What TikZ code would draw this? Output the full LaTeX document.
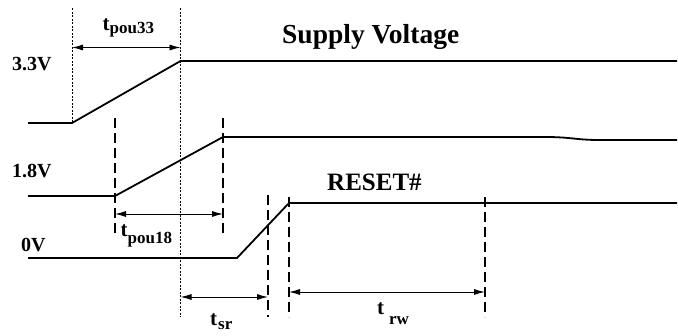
\documentclass[tikz,border=0pt]{standalone}
\usepackage{fontspec}
\setmainfont{Liberation Serif}
\usetikzlibrary{arrows.meta}
\tikzset{
  sig/.style={line width=1.8pt},
  dotv/.style={line width=0.9pt, dash pattern=on 2pt off 1.5pt},
  dashv/.style={line width=1.5pt, dash pattern=on 10pt off 5pt},
  dim/.style={line width=0.9pt, {Latex[length=11pt,width=6pt]}-{Latex[length=11pt,width=6pt]}},
  lab/.style={inner sep=0pt, anchor=base west, font=\bfseries},
}
\newcommand{\bigt}[3]{{\fontsize{21}{21}\selectfont t}\raisebox{-#1pt}{\hspace{#3pt}\fontsize{17}{17}\selectfont #2}}
\begin{document}
\begin{tikzpicture}[x=1pt,y=-1pt]
\path[use as bounding box] (0,0) rectangle (678,335);
% waveform points
\coordinate (a0) at (28,123);
\coordinate (a1) at (72,123);
\coordinate (a2) at (180.5,61);
\coordinate (a3) at (677,61);
\coordinate (b0) at (28,196);
\coordinate (b1) at (115,196);
\coordinate (b2) at (223,137);
\coordinate (b3) at (545,137);
\coordinate (b4) at (600,140);
\coordinate (b5) at (677,140);
\coordinate (c0) at (28,258);
\coordinate (c1) at (237,258);
\coordinate (c2) at (289,203);
\coordinate (c3) at (677,203);
% vertical guide ends
\coordinate (vA1) at (72,8);   \coordinate (vA2) at (72,123);
\coordinate (vB1) at (180.5,8);  \coordinate (vB2) at (180.5,317);
\coordinate (vC1) at (115,118); \coordinate (vC2) at (115,234);
\coordinate (vD1) at (223,118); \coordinate (vD2) at (223,234);
\coordinate (vE1) at (268,195); \coordinate (vE2) at (268,317);
\coordinate (vF1) at (289,197); \coordinate (vF2) at (289,317);
\coordinate (vG1) at (485,197); \coordinate (vG2) at (485,317);
% dimension arrow ends
\coordinate (d33a) at (72,47.5);  \coordinate (d33b) at (180.5,47.5);
\coordinate (d18a) at (115,214);  \coordinate (d18b) at (223,214);
\coordinate (dsra) at (180.5,297); \coordinate (dsrb) at (268,297);
\coordinate (drwa) at (289,292);  \coordinate (drwb) at (485,292);
% waveforms
\draw[sig] (a0) -- (a1) -- (a2) -- (a3);
\draw[sig] (b0) -- (b1) -- (b2) -- (b3) .. controls (572,137) and (575,140) .. (b4) -- (b5);
\draw[sig] (c0) -- (c1) -- (c2) -- (c3);
% guides
\draw[dotv] (vA1) -- (vA2);
\draw[dotv] (vB1) -- (vB2);
\draw[dashv] (vC1) -- (vC2);
\draw[dashv] (vD1) -- (vD2);
\draw[dashv] (vE1) -- (vE2);
\draw[dashv] (vF1) -- (vF2);
\draw[dashv] (vG1) -- (vG2);
% dimensions
\draw[dim] (d33a) -- (d33b);
\draw[dim] (d18a) -- (d18b);
\draw[dim] (dsra) -- (dsrb);
\draw[dim] (drwa) -- (drwb);
% labels
\node[lab, font=\bfseries\fontsize{27.5}{27.5}\selectfont] (supply) at (282,43.5) {Supply Voltage};
\node[lab, font=\bfseries\fontsize{25}{25}\selectfont] (reset) at (327,190) {RESET\#};
\node[lab, font=\bfseries\fontsize{20}{20}\selectfont] (v33) at (12,70) {3.3V};
\node[lab, font=\bfseries\fontsize{20}{20}\selectfont] (v18) at (12,177) {1.8V};
\node[lab, font=\bfseries\fontsize{20}{20}\selectfont] (v0) at (21,251) {0V};
\node[lab] (tp33) at (102.5,30) {\bigt{3.5}{pou33}{0}};
\node[lab] (tp18) at (120.5,236.5) {\bigt{6.5}{pou18}{0}};
\node[lab] (tsr) at (210,325.5) {\bigt{4}{sr}{1}};
\node[lab] (trw) at (377,314) {\bigt{10.5}{rw}{5}};
\end{tikzpicture}
\end{document}
